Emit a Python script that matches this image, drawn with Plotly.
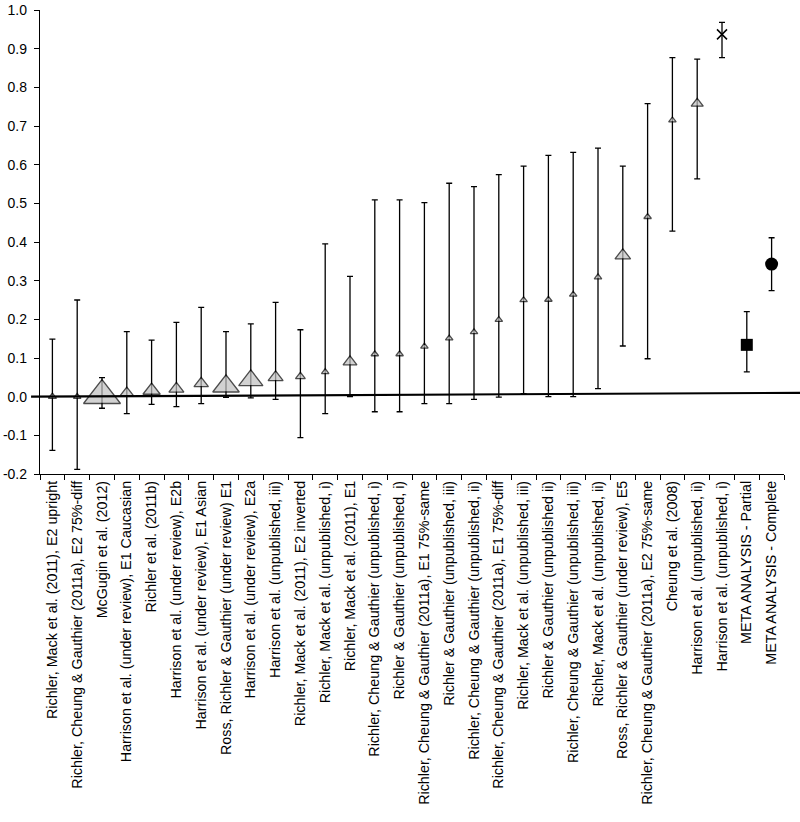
import plotly.graph_objects as go

labels = [
    "Richler, Mack et al. (2011), E2 upright",
    "Richler, Cheung & Gauthier (2011a), E2 75%-diff",
    "McGugin et al. (2012)",
    "Harrison et al. (under review), E1 Caucasian",
    "Richler et al. (2011b)",
    "Harrison et al. (under review), E2b",
    "Harrison et al. (under review), E1 Asian",
    "Ross, Richler & Gauthier (under review) E1",
    "Harrison et al. (under review), E2a",
    "Harrison et al. (unpublished, iii)",
    "Richler, Mack et al. (2011), E2 inverted",
    "Richler, Mack et al. (unpublished, i)",
    "Richler, Mack et al. (2011), E1",
    "Richler, Cheung & Gauthier (unpublished, i)",
    "Richler & Gauthier (unpublished, i)",
    "Richler, Cheung & Gauthier (2011a), E1 75%-same",
    "Richler & Gauthier (unpublished, iii)",
    "Richler, Cheung & Gauthier (unpublished, ii)",
    "Richler, Cheung & Gauthier (2011a), E1 75%-diff",
    "Richler, Mack et al. (unpublished, iii)",
    "Richler & Gauthier (unpublished ii)",
    "Richler, Cheung & Gauthier (unpublished, iii)",
    "Richler, Mack et al. (unpublished, ii)",
    "Ross, Richler & Gauthier (under review), E5",
    "Richler, Cheung & Gauthier (2011a), E2 75%-same",
    "Cheung et al. (2008)",
    "Harrison et al. (unpublished, ii)",
    "Harrison et al. (unpublished, i)",
    "META ANALYSIS - Partial",
    "META ANALYSIS - Complete",
]

effect = [0.000, 0.000, 0.003, 0.010, 0.016, 0.020, 0.034, 0.027, 0.042, 0.050,
          0.052, 0.064, 0.090, 0.110, 0.110, 0.130, 0.151, 0.167, 0.199, 0.250,
          0.251, 0.264, 0.309, 0.365, 0.465, 0.715, 0.758, 0.937, 0.134, 0.343]
ci_low = [-0.139, -0.188, -0.030, -0.044, -0.020, -0.026, -0.018, -0.002, -0.003, -0.007,
          -0.106, -0.044, 0.000, -0.039, -0.039, -0.018, -0.018, -0.007, -0.001, 0.008,
          0.000, 0.000, 0.021, 0.131, 0.098, 0.428, 0.563, 0.877, 0.064, 0.274]
ci_high = [0.149, 0.250, 0.049, 0.168, 0.146, 0.192, 0.231, 0.168, 0.188, 0.244,
           0.173, 0.395, 0.311, 0.509, 0.509, 0.502, 0.552, 0.543, 0.574, 0.596,
           0.624, 0.632, 0.643, 0.596, 0.758, 0.877, 0.873, 0.968, 0.220, 0.411]

y_ticks = [-0.2, -0.1, 0.0, 0.1, 0.2, 0.3, 0.4, 0.5, 0.6, 0.7, 0.8, 0.9, 1.0]

# marker styling (study weight shown as triangle size)
tri_sizes = [7, 6.5, 32, 11.5, 15, 13, 12.5, 23, 21, 13,
             8.5, 6.5, 12, 6.5, 6.5, 6.5, 6.5, 6.5, 6.5, 6.5,
             6.5, 6.5, 6.5, 13.5, 6.5, 6.5, 10.5]

n_tri = 27
fig = go.Figure()

def add_points(idx, marker):
    xs = [labels[i] for i in idx]
    ys = [effect[i] for i in idx]
    up = [ci_high[i] - effect[i] for i in idx]
    dn = [effect[i] - ci_low[i] for i in idx]
    fig.add_trace(go.Scatter(
        x=xs, y=ys, mode="markers", marker=marker,
        error_y=dict(type="data", symmetric=False, array=up, arrayminus=dn,
                     color="black", thickness=1.3, width=3),
        showlegend=False, cliponaxis=False, hoverinfo="skip",
    ))

add_points(list(range(n_tri)), dict(symbol="triangle-up", size=tri_sizes,
                                    color="#c0c0c0", line=dict(color="black", width=1.3)))
add_points([27], dict(symbol="x-thin", size=10, line=dict(color="black", width=1.5)))
add_points([28], dict(symbol="square", size=12, color="black"))
add_points([29], dict(symbol="circle", size=13, color="black"))

fig.add_shape(type="line", xref="paper", yref="y", x0=-0.012, x1=1.0215, y0=0.0, y1=0.01,
              line=dict(color="black", width=2.2), layer="above")

fig.update_layout(
    width=800, height=822,
    margin=dict(l=40, r=16, t=10, b=348, autoexpand=False),
    plot_bgcolor="white", paper_bgcolor="white",
    font=dict(family="Liberation Sans, Arial, sans-serif", size=14, color="black"),
)
fig.update_xaxes(
    type="category", categoryorder="array", categoryarray=labels,
    range=[-0.5, len(labels) - 0.5], automargin=False,
    showline=True, linecolor="black", linewidth=1.3, mirror=False,
    ticks="outside", ticklen=5, tickwidth=1, tickcolor="black",
    tickson="boundaries", tickangle=-90, showgrid=False, zeroline=False,
    tickfont=dict(size=14.3),
)
fig.update_yaxes(
    range=[-0.2, 1.0], tickmode="array", tickvals=y_ticks, automargin=False,
    ticktext=[f"{v:.1f}" for v in y_ticks],
    showline=True, linecolor="black", linewidth=1.3,
    ticks="outside", ticklen=5, tickwidth=1, tickcolor="black",
    showgrid=False, zeroline=False, ticklabelstandoff=4,
    tickfont=dict(size=14),
)

fig.write_html("out.html", config={"displayModeBar": False},
               post_script="document.body.style.margin='0';document.body.style.overflow='hidden';")
